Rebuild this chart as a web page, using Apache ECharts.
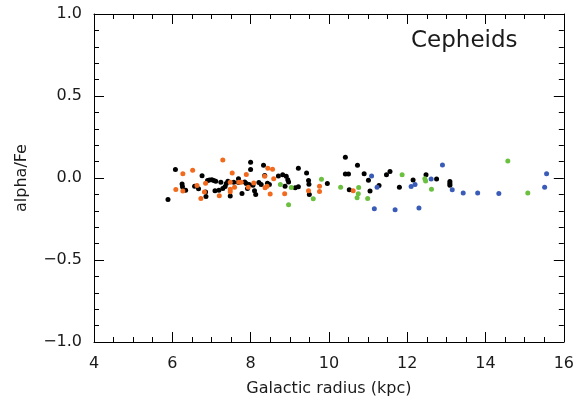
<!DOCTYPE html>
<html>
<head>
<meta charset="utf-8">
<script src="https://cdn.jsdelivr.net/npm/echarts@6/dist/echarts.min.js"></script>
<style>html,body{margin:0;padding:0;background:#fff}#c{width:577px;height:402px}</style>
</head>
<body>
<div id="c"></div>
<script>
var xTicks = [4, 6, 8, 10, 12, 14, 16];
var yTicks = [-1.0, -0.5, 0.0, 0.5, 1.0];

var blackX = [5.89,6.08,6.25,6.26,6.34,6.57,6.67,6.76,6.85,6.86,6.90,6.95,7.01,7.06,7.11,7.09,7.19,7.24,7.29,7.35,7.38,7.42,7.48,7.57,7.69,7.69,7.78,7.85,7.89,7.92,7.96,8.00,8.00,8.06,8.10,8.13,8.21,8.27,8.33,8.36,8.43,8.48,8.71,8.82,8.91,8.95,8.97,8.88,9.14,9.22,9.22,9.43,9.48,9.49,9.50,9.96,10.42,10.73,10.42,10.50,10.52,10.90,11.01,11.28,11.05,11.47,11.56,11.80,12.15,12.48,12.75,13.09,13.09,13.09];
var blackY = [-0.131,0.052,-0.036,-0.054,-0.074,-0.050,-0.066,0.014,-0.086,-0.113,-0.016,-0.012,-0.010,-0.016,-0.020,-0.078,-0.074,-0.026,-0.064,-0.052,-0.034,-0.020,-0.110,-0.026,-0.004,-0.028,-0.095,-0.024,-0.034,-0.064,-0.040,0.096,0.052,-0.044,-0.077,-0.101,-0.028,-0.040,0.077,0.016,-0.032,-0.040,0.012,0.020,0.010,-0.010,-0.024,-0.050,-0.060,-0.054,0.060,0.030,-0.016,-0.038,-0.101,-0.034,0.127,0.078,0.024,0.024,-0.072,0.026,-0.014,-0.046,-0.080,0.020,0.040,-0.056,-0.012,0.020,-0.006,-0.022,-0.034,-0.044];

var orangeX = [7.29,6.27,6.52,6.09,6.27,6.63,6.82,6.85,6.73,7.20,7.48,7.48,7.48,7.53,7.59,7.70,7.76,7.89,7.94,8.08,8.36,8.42,8.44,8.56,8.59,8.50,8.37,8.87,9.48,9.76,9.76,10.62];
var orangeY = [0.110,0.026,0.048,-0.070,-0.080,-0.046,-0.086,-0.032,-0.125,-0.108,-0.068,-0.084,-0.026,0.030,-0.056,-0.026,-0.026,0.022,-0.056,-0.030,0.010,-0.050,0.060,0.054,-0.004,-0.098,-0.060,-0.096,-0.077,-0.050,-0.083,-0.077];

var greenX = [8.76,9.04,8.97,9.81,9.60,10.30,10.76,10.75,10.72,10.99,11.87,12.45,12.47,12.62,14.57,15.08];
var greenY = [-0.040,-0.058,-0.163,-0.008,-0.127,-0.056,-0.058,-0.096,-0.120,-0.125,0.020,-0.004,-0.018,-0.068,0.104,-0.092];

var blueX = [11.09,11.23,11.16,11.69,12.10,12.20,12.30,12.61,12.90,13.15,13.43,13.80,14.34,15.56,15.51];
var blueY = [0.012,-0.056,-0.187,-0.193,-0.052,-0.040,-0.183,-0.006,0.080,-0.072,-0.092,-0.092,-0.095,0.026,-0.056];

function zip(a, b) { return a.map(function (v, i) { return [v, b[i]]; }); }

var FONT = 'DejaVu Sans';
var TXT = '#1a1a1a';
var lineStyle = { color: '#000', width: 1 };

function mkX(pos, show) {
  return {
    type: 'value', position: pos, min: xTicks[0], max: xTicks[xTicks.length - 1],
    interval: xTicks[1] - xTicks[0],
    axisLine: { show: true, onZero: false, lineStyle: lineStyle },
    axisTick: { show: true, inside: true, length: 10, lineStyle: lineStyle },
    minorTick: { show: true, splitNumber: 4, length: 5, lineStyle: lineStyle },
    splitLine: { show: false },
    axisLabel: { show: show, color: TXT, fontFamily: FONT, fontSize: 16, margin: 14 },
    name: show ? 'Galactic radius (kpc)' : '', nameLocation: 'middle', nameGap: 39,
    nameTextStyle: { color: TXT, fontFamily: FONT, fontSize: 16 }
  };
}
function mkY(pos, show) {
  return {
    type: 'value', position: pos, min: yTicks[0], max: yTicks[yTicks.length - 1],
    interval: yTicks[1] - yTicks[0],
    axisLine: { show: true, onZero: false, lineStyle: lineStyle },
    axisTick: { show: true, inside: true, length: 10, lineStyle: lineStyle },
    minorTick: { show: true, splitNumber: 5, length: 5, lineStyle: lineStyle },
    splitLine: { show: false },
    axisLabel: { show: show, color: TXT, fontFamily: FONT, fontSize: 16, margin: 12,
      formatter: function (v) { return (v < 0 ? '\u2212' : '') + Math.abs(v).toFixed(1); } },
    name: show ? 'alpha/Fe' : '', nameLocation: 'middle', nameGap: 64,
    nameTextStyle: { color: TXT, fontFamily: FONT, fontSize: 16 }
  };
}

function sc(name, data, color) {
  return {
    name: name, type: 'scatter', xAxisIndex: 0, yAxisIndex: 0,
    data: data, symbol: 'circle', symbolSize: 5,
    itemStyle: { color: color, opacity: 1 }, silent: true, animation: false
  };
}

var chart = echarts.init(document.getElementById('c'), null, { renderer: 'canvas' });
chart.setOption({
  backgroundColor: '#fff',
  animation: false,
  title: {
    text: 'Cepheids', left: 406, top: 25,
    textStyle: { color: TXT, fontFamily: FONT, fontSize: 23, fontWeight: 'normal' }
  },
  grid: { left: 94, right: 12, top: 14, bottom: 56, containLabel: false },
  xAxis: [mkX('bottom', true), mkX('top', false)],
  yAxis: [mkY('left', true), mkY('right', false)],
  series: [
    sc('black', zip(blackX, blackY), '#000000'),
    sc('orange', zip(orangeX, orangeY), '#f26a1e'),
    sc('green', zip(greenX, greenY), '#6cc040'),
    sc('blue', zip(blueX, blueY), '#3a5cb8')
  ]
});
</script>
</body>
</html>
